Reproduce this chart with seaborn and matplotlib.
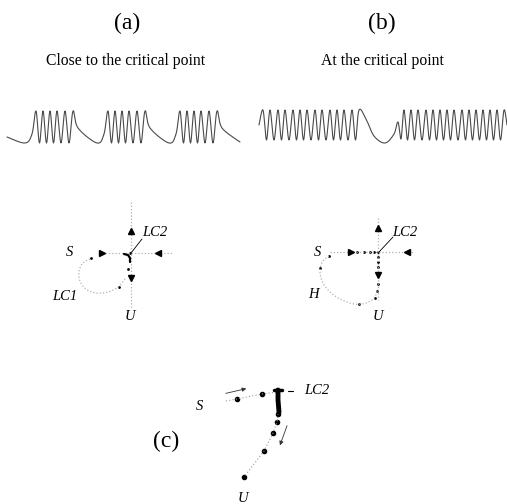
import numpy as np
import pandas as pd
import matplotlib
matplotlib.use("Agg")
import matplotlib.pyplot as plt
import seaborn as sns

sns.set_theme(style="white")
plt.rcParams['font.family'] = ['Liberation Serif', 'DejaVu Serif']

# ---------------- data (pixel coordinates) ----------------
# panel (a) waveform: bursts of spikes (peak x positions), levels
a_bursts = [[36, 43, 50, 57, 65, 73],
            [108, 115, 122, 129, 137, 145],
            [180, 187, 194, 201, 209, 217]]
a_top, a_bottom = 111, 143
a_start = [(7, 137), (25, 143), (32, 134)]
a_end = [(222, 128), (240, 142)]

# panel (b) waveform
b_peaks_1 = [263, 270, 278, 285, 293, 300, 307, 315, 322, 330, 337, 344, 352, 359]
b_peaks_2 = [404, 411, 418, 426, 433, 440, 447, 454, 462, 469, 476, 483, 490, 497, 504]
b_top, b_bottom = 110, 140
b_dip = [(366, 119), (374, 136), (385, 143), (394, 134), (398, 122), (401, 139)]

# phase portrait (a)
pa_hline = ([102, 173], [253, 253])
pa_vline = ([131, 131], [202, 308])
pa_loop_x = [90, 83, 79, 80, 86, 96, 108, 118, 125]
pa_loop_y = [259, 263, 271, 281, 289, 293, 292, 287, 279]
pa_dots_x = [91, 128, 119, 130]
pa_dots_y = [258, 269, 287, 253]
pa_arrows = [(131, 231, '^'), (102, 253, '>'), (158, 253, '<'), (131, 278, 'v')]
pa_hook_x = [124, 128, 130, 130]
pa_hook_y = [254, 255, 258, 262]

# phase portrait (b)
pb_hline = ([330, 413], [252, 252])
pb_vline = ([378, 378], [218, 300])
pb_loop_x = [329, 323, 320, 322, 329, 340, 354, 366, 374, 378]
pb_loop_y = [256, 261, 270, 281, 291, 299, 304, 303, 298, 289]
pb_dots_x = [329, 357, 364, 370, 374, 378, 378, 378, 378, 378, 377, 320, 359, 375]
pb_dots_y = [256, 252, 252, 252, 252, 252, 257, 262, 267, 284, 291, 268, 304, 298]
pb_arrows = [(378, 228, '^'), (351, 252, '>'), (407, 252, '<'), (378, 275, 'v')]

# panel (c)
pc_dots_x = [237, 262, 278, 277, 273, 264, 244]
pc_dots_y = [399, 394, 414, 422, 433, 451, 477]
pc_blob_x = [278, 278, 279]
pc_blob_y = [390, 400, 412]
pc_path_x = [226, 237, 262, 277, 278, 277, 273, 264, 244]
pc_path_y = [401, 399, 394, 392, 414, 422, 433, 451, 477]

labels = [("(a)", 127, 23, 17), ("(b)", 382, 23, 17),
          ("Close to the critical point", 126, 61, 11.3),
          ("At the critical point", 382, 61, 11.3),
          ("(c)", 166, 441, 17)]
italic_labels = [("S", 70, 253), ("LC2", 155, 233), ("LC1", 65, 297), ("U", 130, 317),
                 ("S", 318, 252), ("LC2", 405, 232), ("H", 313, 295), ("U", 378, 317),
                 ("S", 200, 407), ("LC2", 317, 390), ("U", 243, 498)]


# ---------------- helpers ----------------
def catmull(xs, ys, n=10):
    P = np.column_stack([xs, ys]).astype(float)
    P = np.vstack([P[0], P, P[-1]])
    out = []
    t = np.linspace(0, 1, n, endpoint=False)[:, None]
    for i in range(1, len(P) - 2):
        p0, p1, p2, p3 = P[i - 1], P[i], P[i + 1], P[i + 2]
        out.append(0.5 * ((2 * p1) + (-p0 + p2) * t + (2 * p0 - 5 * p1 + 4 * p2 - p3) * t ** 2
                          + (-p0 + 3 * p1 - 3 * p2 + p3) * t ** 3))
    out.append(P[-2][None])
    return np.vstack(out)


def spike_nodes(peaks, top, bottom):
    nodes = []
    for i, p in enumerate(peaks):
        nodes.append((p, top))
        if i < len(peaks) - 1:
            nodes.append(((p + peaks[i + 1]) / 2, bottom))
    return nodes


# waveform (a) nodes
nodes_a = list(a_start)
for k, burst in enumerate(a_bursts):
    nodes_a += spike_nodes(burst, a_top, a_bottom)
    if k < len(a_bursts) - 1:
        nxt = a_bursts[k + 1][0]
        nodes_a += [(burst[-1] + 5, 128), (nxt - 11, a_bottom), (nxt - 4, 134)]
nodes_a += a_end
nodes_b = [(259, 125)] + spike_nodes(b_peaks_1, b_top, b_bottom) + b_dip + \
          spike_nodes(b_peaks_2, b_top, b_bottom) + [(507, 125)]

fig = plt.figure(figsize=(5.07, 5.04), dpi=100)
ax = fig.add_axes([0, 0, 1, 1])
ax.set_xlim(0, 507)
ax.set_ylim(504, 0)
ax.axis('off')

wcol = "#4a4a4a"
for nodes in (nodes_a, nodes_b):
    xs, ys = zip(*nodes)
    c = catmull(xs, ys, n=8)
    sns.lineplot(x=c[:, 0], y=c[:, 1], sort=False, estimator=None, ax=ax,
                 color=wcol, lw=0.8)

gcol = "#b0b0b0"
dots_style = dict(color=gcol, lw=0.9, linestyle=(0, (1, 1.6)))
for (lx, ly) in (pa_hline, pa_vline, pb_hline, pb_vline):
    ax.plot(lx, ly, **dots_style)
for lx, ly in ((pa_loop_x, pa_loop_y), (pb_loop_x, pb_loop_y)):
    c = catmull(lx, ly, n=10)
    ax.plot(c[:, 0], c[:, 1], **dots_style)
ax.plot(pc_path_x, pc_path_y, color="#999999", lw=0.8, linestyle=(0, (1, 2)))

# dots
sns.scatterplot(x=pa_dots_x, y=pa_dots_y, ax=ax, color='black', s=4, linewidth=0)
sns.scatterplot(x=pb_dots_x, y=pb_dots_y, ax=ax, color='black', s=4, linewidth=0)
sns.scatterplot(x=pc_dots_x, y=pc_dots_y, ax=ax, color='black', s=16, linewidth=0)
ax.plot(pc_blob_x, pc_blob_y, color='black', lw=3.5, solid_capstyle='round')
ax.plot([274, 282], [390, 390], color='black', lw=2.5, solid_capstyle='round')
ax.plot(pa_hook_x, pa_hook_y, color='black', lw=1.6)

for (x, y, m) in pa_arrows + pb_arrows:
    ax.plot([x], [y], marker=m, color='black', markersize=4, linestyle='none')

# leader lines
ax.plot([131, 142], [253, 239], color='black', lw=0.6)
ax.plot([379, 393], [252, 237], color='black', lw=0.6)
ax.plot([293, 288], [391, 391], color='black', lw=0.8)
ax.annotate("", xy=(249, 388), xytext=(223, 394),
            arrowprops=dict(arrowstyle='-|>', color='#333333', lw=0.6, mutation_scale=6))
ax.annotate("", xy=(279, 448), xytext=(288, 423),
            arrowprops=dict(arrowstyle='-|>', color='#333333', lw=0.6, mutation_scale=6))

for (t, x, y, s) in labels:
    ax.text(x, y, t, ha='center', va='center', fontsize=s, color='black')
for (t, x, y) in italic_labels:
    ax.text(x, y, t, ha='center', va='center', fontsize=10.5, style='italic', color='black')

fig.savefig("out.png", dpi=100)
